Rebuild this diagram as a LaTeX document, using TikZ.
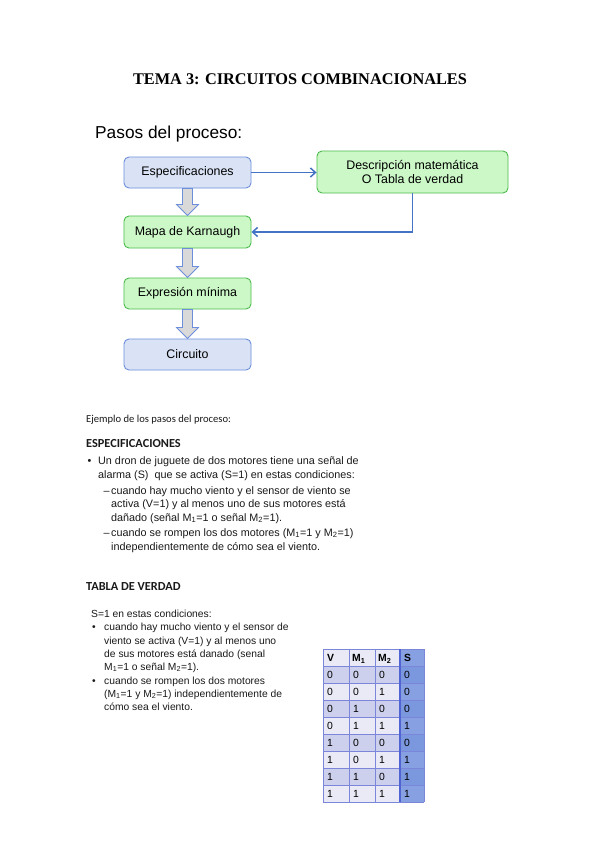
\documentclass[tikz,border=0pt]{standalone}
\usepackage{fontspec}
\setmainfont{Liberation Sans}
\newfontfamily\timesf{Liberation Serif}
\newfontfamily\calib{Carlito}
\usetikzlibrary{calc,arrows.meta}
\definecolor{bluefill}{HTML}{DAE3F5}
\definecolor{blueline}{HTML}{6C8EDB}
\definecolor{greenfill}{HTML}{CCF8C8}
\definecolor{greenline}{HTML}{4CBB4C}
\definecolor{conn}{HTML}{4472C4}
\definecolor{arrowgray}{HTML}{D9D9D9}
\definecolor{rowdark}{HTML}{CDD0EC}
\definecolor{rowlight}{HTML}{E9EAF6}
\definecolor{scol}{HTML}{86A0E2}
\definecolor{scoldark}{HTML}{7B98DE}
\definecolor{grid}{HTML}{7B86DA}
\definecolor{gridstrong}{HTML}{4F63D2}
\definecolor{txt}{HTML}{1A1A1A}
\tikzset{
  stepbox/.style={rounded corners=5pt, line width=0.9pt, minimum width=127pt, inner sep=0pt, align=center, font=\fontsize{12.4}{14.5}\selectfont},
  bluebox/.style={stepbox, fill=bluefill, draw=blueline},
  greenbox/.style={stepbox, fill=greenfill, draw=greenline},
  connector/.style={draw=conn, line width=1.5pt, -{Straight Barb[length=5pt,width=9pt]}},
  blockarr/.style={fill=arrowgray, draw=blueline, line width=0.8pt},
  line/.style={anchor=base west, inner sep=0pt, text=txt},
  bodyA/.style={line, font=\fontsize{10.8}{13}\selectfont},
  bodyB/.style={line, font=\fontsize{10.3}{13}\selectfont},
  cell/.style={anchor=base west, inner sep=0pt, font=\fontsize{10.4}{12}\selectfont},
}
\newcommand{\blockarrow}[2]{%
  \draw[blockarr] ($(#1.south)+(-5,0)$) -- ($(#2.north)+(-5,-11)$) -- ($(#2.north)+(-11,-11)$) -- (#2.north) -- ($(#2.north)+(11,-11)$) -- ($(#2.north)+(5,-11)$) -- ($(#1.south)+(5,0)$) -- cycle;}
\begin{document}
\begin{tikzpicture}[x=1pt,y=-1pt]
\useasboundingbox[fill=white] (0,0) rectangle (599,848);

% title
\node[anchor=base, inner sep=0pt, font=\timesf\bfseries\fontsize{16.3}{19}\selectfont] (title) at (300,85) {TEMA 3: CIRCUITOS COMBINACIONALES};

\node[anchor=base west, inner sep=0pt, font=\fontsize{17.3}{20}\selectfont] (pasos) at (95,139) {Pasos del proceso:};

% flow boxes
\node[bluebox, minimum height=31pt] (espec) at (187.5,172.5) {Especificaciones};
\node[greenbox, minimum width=191pt, minimum height=42pt] (desc) at (412.5,172) {Descripción matemática\\O Tabla de verdad};
\node[greenbox, minimum height=32pt] (mapa) at (187.5,232) {Mapa de Karnaugh};
\node[greenbox, minimum height=31pt] (expr) at (187.5,293.5) {Expresión mínima};
\node[bluebox, minimum height=31pt] (circ) at (187.5,354.5) {Circuito};

\draw[connector] (espec.east) -- (espec.east -| desc.west);
\draw[connector] (desc.south) |- (mapa.east);

\blockarrow{espec}{mapa}
\blockarrow{mapa}{expr}
\blockarrow{expr}{circ}

% example section
\node[line, font=\calib\fontsize{10.6}{12}\selectfont] (ej) at (86,422) {Ejemplo de los pasos del proceso:};
\node[line, font=\calib\bfseries\fontsize{12.3}{14}\selectfont] (esph) at (86,447) {ESPECIFICACIONES};

\node[bodyA] (b1) at (87.5,464) {\textbullet};
\node[bodyA] (s1) at (98,464) {Un dron de juguete de dos motores tiene una señal de};
\node[bodyA] (s2) at (98,478) {alarma (S)\ \ que se activa (S=1) en estas condiciones:};
\node[bodyA] (d1) at (103.5,494) {–};
\node[bodyA] (s3) at (111,494) {cuando hay mucho viento y el sensor de viento se};
\node[bodyA] (s4) at (111,507.5) {activa (V=1) y al menos uno de sus motores está};
\node[bodyA] (s5) at (111,521) {dañado (señal M\textsubscript{1}=1 o señal M\textsubscript{2}=1).};
\node[bodyA] (d2) at (103.5,536) {–};
\node[bodyA] (s6) at (111,536) {cuando se rompen los dos motores (M\textsubscript{1}=1 y M\textsubscript{2}=1)};
\node[bodyA] (s7) at (111,550) {independientemente de cómo sea el viento.};

\node[line, font=\calib\bfseries\fontsize{12.3}{14}\selectfont] (tvh) at (86,590) {TABLA DE VERDAD};

\node[bodyB] (t0) at (91,617) {S=1 en estas condiciones:};
\node[bodyB] (tb1) at (92,630.5) {\textbullet};
\node[bodyB] (t1) at (104,630.5) {cuando hay mucho viento y el sensor de};
\node[bodyB] (t2) at (104,644) {viento se activa (V=1) y al menos uno};
\node[bodyB] (t3) at (104,657) {de sus motores está danado (senal};
\node[bodyB] (t4) at (104,670) {M\textsubscript{1}=1 o señal M\textsubscript{2}=1).};
\node[bodyB] (tb2) at (92,684) {\textbullet};
\node[bodyB] (t5) at (104,684) {cuando se rompen los dos motores};
\node[bodyB] (t6) at (104,697) {(M\textsubscript{1}=1 y M\textsubscript{2}=1) independientemente de};
\node[bodyB] (t7) at (104,710) {cómo sea el viento.};

% truth table
\fill[rowlight] (323,649) rectangle (400,666);
\fill[scol] (400,649) rectangle (424,666);
\foreach \v/\a/\b/\s [count=\i] in {0/0/0/0,0/0/1/0,0/1/0/0,0/1/1/1,1/0/0/0,1/0/1/1,1/1/0/1,1/1/1/1}{
  \pgfmathsetmacro{\top}{649+17*\i}
  \ifodd\i
    \fill[rowdark] (323,\top) rectangle (400,\top+17);
    \fill[scoldark] (400,\top) rectangle (424,\top+17);
  \else
    \fill[rowlight] (323,\top) rectangle (400,\top+17);
    \fill[scol] (400,\top) rectangle (424,\top+17);
  \fi
  \node[cell] (v\i) at (327,\top+12.5) {\v};
  \node[cell] (a\i) at (353,\top+12.5) {\a};
  \node[cell] (b\i) at (379,\top+12.5) {\b};
  \node[cell] (s\i) at (404,\top+12.5) {\s};
}
\node[cell, font=\bfseries\fontsize{10.4}{12}\selectfont] (hv) at (327,661.5) {V};
\node[cell, font=\bfseries\fontsize{10.4}{12}\selectfont] (hm1) at (352,661.5) {M\textsubscript{1}};
\node[cell, font=\bfseries\fontsize{10.4}{12}\selectfont] (hm2) at (378,661.5) {M\textsubscript{2}};
\node[cell, font=\bfseries\fontsize{10.4}{12}\selectfont] (hs) at (404,661.5) {S};
\foreach \i in {0,...,9}{
  \draw[grid, line width=0.8pt] (323,649+17*\i) -- (424,649+17*\i);
}
\foreach \xx in {323,349,375,424}{
  \draw[grid, line width=0.8pt] (\xx,649) -- (\xx,802);
}
\draw[gridstrong, line width=1.2pt] (400,649) -- (400,802);
\end{tikzpicture}
\end{document}
